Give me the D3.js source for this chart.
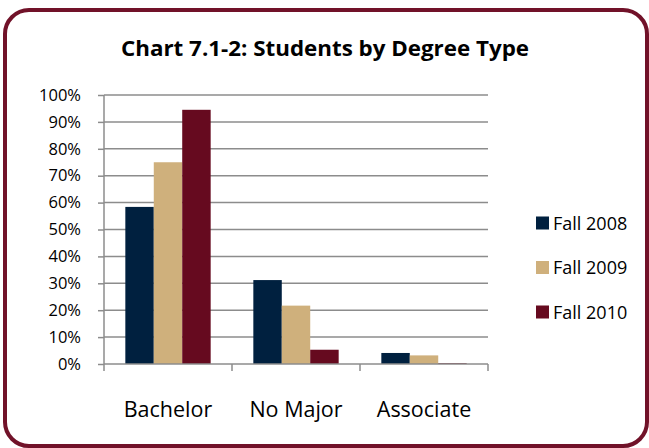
<!DOCTYPE html>
<html>
<head>
<meta charset="utf-8">
<script src="https://cdn.jsdelivr.net/npm/d3@7"></script>
<style>
  body { margin: 0; background: #fff; }
  text { font-family: "Open Sans", sans-serif; }
</style>
</head>
<body>
<svg width="649" height="448"></svg>
<script>
var categories = ['Bachelor', 'No Major', 'Associate'];
var seriesNames = ['Fall 2008', 'Fall 2009', 'Fall 2010'];
var fall2008 = [58.4, 31.2, 4.1];
var fall2009 = [75.0, 21.7, 3.2];
var fall2010 = [94.5, 5.3, 0.3];
var yTicks = [0, 10, 20, 30, 40, 50, 60, 70, 80, 90, 100];
var colors = ['#00203f', '#cfb07c', '#660a1f'];

var seriesValues = [fall2008, fall2009, fall2010];
var svg = d3.select('svg');

// frame
svg.append('rect')
    .attr('x', 5).attr('y', 10)
    .attr('width', 642).attr('height', 436)
    .attr('rx', 24).attr('ry', 24)
    .attr('fill', '#fff')
    .attr('stroke', '#711229')
    .attr('stroke-width', 4);

svg.append('text')
    .attr('x', 325)
    .attr('y', 56)
    .attr('text-anchor', 'middle')
    .attr('font-size', 21)
    .attr('font-weight', 'bold')
    .attr('textLength', 408)
    .attr('lengthAdjust', 'spacingAndGlyphs')
    .text('Chart 7.1-2: Students by Degree Type');

var ScaleX = d3.scaleBand().domain(categories).range([104, 488]);
var ScaleY = d3.scaleLinear().domain([0, 100]).range([364, 95]);
var inner = d3.scaleBand().domain(seriesNames)
    .range([0, ScaleX.bandwidth()]).paddingInner(0).paddingOuter(0.75);

// gridlines
svg.append('g').selectAll('line')
    .data(yTicks.filter(function(d){ return d > 0; }))
    .enter().append('line')
    .attr('x1', 104).attr('x2', 488)
    .attr('y1', function(d){ return ScaleY(d); })
    .attr('y2', function(d){ return ScaleY(d); })
    .attr('stroke', '#8c8c8c')
    .attr('stroke-width', 1.5);

// bars
seriesValues.forEach(function(vals, i){
    svg.append('g').selectAll('rect')
        .data(vals)
        .enter().append('rect')
        .attr('x', function(d, j){ return ScaleX(categories[j]) + inner(seriesNames[i]); })
        .attr('width', inner.bandwidth())
        .attr('y', function(d){ return ScaleY(d); })
        .attr('height', function(d){ return ScaleY(0) - ScaleY(d); })
        .attr('fill', colors[i]);
});

// y axis
var yAxis = svg.append('g')
    .attr('transform', 'translate(104,0)')
    .call(d3.axisLeft(ScaleY).tickValues(yTicks).tickSize(6).tickPadding(17)
        .tickFormat(function(d){ return d + '%'; }));
yAxis.selectAll('line, path').attr('stroke', '#8c8c8c').attr('stroke-width', 1.5);
yAxis.select('.domain').attr('d', 'M0,' + ScaleY(0) + 'V' + ScaleY(100));
yAxis.selectAll('text').attr('font-size', 16.5).attr('fill', '#000')
    .style('font-family', '"Open Sans", sans-serif');

// x axis
var xAxis = svg.append('g')
    .attr('transform', 'translate(0,' + ScaleY(0) + ')');
xAxis.append('line')
    .attr('x1', 104).attr('x2', 488)
    .attr('stroke', '#8c8c8c').attr('stroke-width', 1.5);
xAxis.selectAll('.tk')
    .data([0, 1, 2, 3])
    .enter().append('line')
    .attr('class', 'tk')
    .attr('x1', function(d){ return 104 + d * ScaleX.step(); })
    .attr('x2', function(d){ return 104 + d * ScaleX.step(); })
    .attr('y1', 0).attr('y2', 7)
    .attr('stroke', '#8c8c8c').attr('stroke-width', 1.5);
xAxis.selectAll('.lbl')
    .data(categories)
    .enter().append('text')
    .attr('class', 'lbl')
    .attr('x', function(d){ return ScaleX(d) + ScaleX.bandwidth() / 2; })
    .attr('y', 53)
    .attr('text-anchor', 'middle')
    .attr('font-size', 21.5)
    .text(function(d){ return d; });

// legend
var legend = svg.append('g').selectAll('g')
    .data(seriesNames)
    .enter().append('g')
    .attr('transform', function(d, i){ return 'translate(536,' + (223 + i * 44.5) + ')'; });
legend.append('rect')
    .attr('x', 0).attr('y', -6.5)
    .attr('width', 13).attr('height', 13)
    .attr('fill', function(d, i){ return colors[i]; });
legend.append('text')
    .attr('x', 17).attr('y', 6.5)
    .attr('font-size', 18)
    .text(function(d){ return d; });
</script>
</body>
</html>
